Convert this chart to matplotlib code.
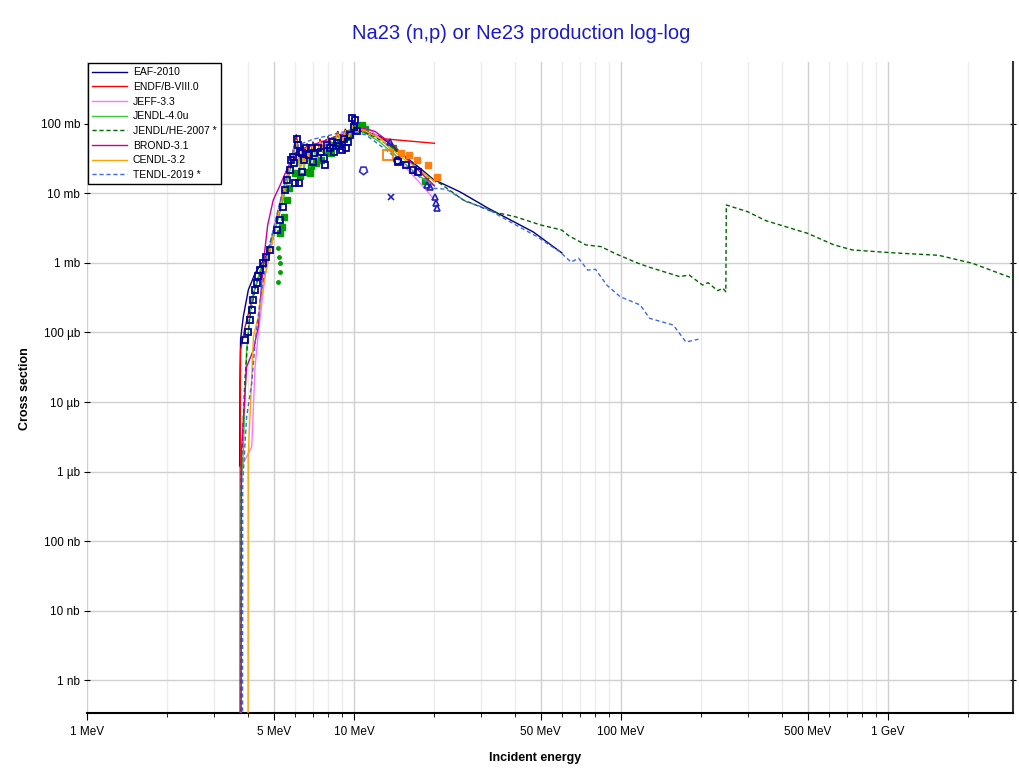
import numpy as np
import matplotlib
matplotlib.use("Agg")
import matplotlib.pyplot as plt

plt.rcParams['font.family'] = ['Liberation Sans', 'DejaVu Sans']

# energies in MeV, cross sections in mb
eaf_e = [3.73, 3.74, 3.76, 3.85, 4.02, 4.26, 4.64, 4.9, 5.06, 5.3, 5.5, 5.7, 5.9, 6.08, 6.17, 6.28,
         6.40, 6.49, 6.67, 6.84, 7.02, 7.28, 7.46, 7.73, 8.0, 8.34, 8.69, 9.0, 9.28, 9.57, 9.84,
         10.1, 10.35, 10.7, 12.5, 14.0, 15.7, 17.7, 19.8, 24.9, 31.9, 46.9, 60.0]
eaf_s = [1.2e-3, 0.02, 0.08, 0.17, 0.41, 0.71, 1.17, 1.8, 3.0, 6.0, 11, 20, 35, 70, 45, 22,
         48, 25, 52, 27, 55, 33, 60, 36, 66, 45, 78, 50, 84, 60, 118,
         72, 88, 82, 66, 48, 33, 23, 16, 10.6, 6.1, 2.8, 1.4]

endf_e = [3.74, 3.75, 3.76, 3.91, 4.2, 4.45, 4.7, 4.9, 5.06, 5.37, 5.59, 5.81, 5.98, 6.08, 6.17, 6.28,
          6.40, 6.49, 6.67, 6.84, 7.02, 7.28, 7.46, 7.73, 8.0, 8.34, 8.69, 9.0, 9.28, 9.57, 9.84,
          10.1, 10.35, 10.7, 12.5, 20.0]
endf_s = [1e-8, 0.02, 0.056, 0.121, 0.366, 0.7, 1.23, 2.0, 3.5, 9.5, 16.7, 30, 50, 63, 42, 26,
          45, 27, 50, 30, 53, 36, 59, 40, 65, 48, 77, 55, 82, 65, 100,
          74, 88, 82, 62, 52.8]

jeff_e = [3.78, 3.785, 3.96, 4.14, 4.26, 4.38, 4.64, 5.0, 5.5, 6.0, 6.5, 7.0, 8.0, 9.0, 10.0, 11.0,
          11.5, 13.0, 15.7, 18.2, 19.8]
jeff_s = [1e-8, 1.17e-3, 1.63e-3, 2.27e-3, 0.032, 0.097, 0.635, 3.2, 13, 38, 44, 49, 58, 70, 84, 85,
          82, 55, 23, 12.5, 8.5]

jendl4_e = [3.76, 3.77, 3.85, 3.96, 4.14, 4.45, 4.85, 5.06, 5.37, 5.59, 5.81, 5.98, 6.08, 6.17, 6.28,
            6.40, 6.49, 6.67, 6.84, 7.02, 7.28, 7.46, 7.73, 8.0, 8.34, 8.69, 9.0, 9.28, 9.57, 9.84,
            10.1, 10.5, 11.0, 12.5, 15.0, 17.5, 20.0]
jendl4_s = [1e-8, 5e-4, 2e-3, 0.056, 0.294, 0.79, 1.54, 3.0, 7, 13, 25, 42, 55, 35, 20,
            38, 22, 42, 24, 45, 30, 52, 35, 58, 44, 70, 52, 75, 62, 90,
            76, 80, 75, 55, 30, 18, 12.8]

jendlhe_e = [3.77, 3.78, 3.9, 4.05, 4.3, 4.7, 5.0, 5.3, 5.6, 5.9, 6.2, 6.6, 7.0, 7.5, 8.0, 8.5, 9.0,
             9.5, 10.0, 10.5, 12.0, 14.0, 16.0, 18.0, 20.0, 21.0, 25.6, 33.0, 40.1, 50.1, 60.0,
             63.9, 73.9, 84.2, 95.8, 116, 128, 166, 180, 202, 212, 230, 241, 247, 248, 298,
             349, 500, 628, 736, 1016, 1549, 2071, 2938]
jendlhe_s = [1e-8, 1e-3, 0.02, 0.15, 0.5, 1.3, 3.0, 7, 15, 30, 42, 46, 50, 55, 60, 66, 72,
             78, 82, 80, 65, 45, 30, 20, 15, 14, 8.1, 5.47, 4.64, 3.52, 2.98,
             2.45, 1.82, 1.72, 1.35, 0.99, 0.867, 0.636, 0.672, 0.482, 0.521, 0.40, 0.432, 0.386, 6.84, 5.47,
             4.06, 2.67, 1.82, 1.54, 1.41, 1.29, 0.99, 0.60]

brond_e = [3.77, 3.79, 3.96, 4.2, 4.38, 4.51, 4.64, 4.75, 4.98, 5.28, 5.6, 6.0, 6.5, 7.0, 7.5, 8.0,
           9.0, 10.0, 11.0, 12.0, 14.0, 16.0, 18.0, 20.0]
brond_s = [1e-8, 2e-3, 0.032, 0.056, 0.121, 0.51, 1.6, 3.5, 8, 13, 22, 38, 45, 50, 55, 60,
           70, 82, 86, 78, 50, 30, 19, 13]

cendl_e = [4.01, 4.015, 4.14, 4.2, 4.38, 4.64, 4.85, 5.06, 5.37, 5.59, 5.81, 5.98, 6.08, 6.17, 6.28,
           6.40, 6.49, 6.67, 6.84, 7.02, 7.28, 7.46, 7.73, 8.0, 8.34, 8.69, 9.0, 9.28, 9.57, 9.84,
           10.1, 10.5, 11.0, 12.5, 14.9, 17.0, 20.0]
cendl_s = [1e-8, 1.63e-3, 0.023, 0.087, 0.169, 0.635, 1.4, 3.3, 8, 15, 28, 46, 58, 38, 23,
           42, 25, 46, 28, 50, 33, 56, 38, 62, 46, 74, 54, 80, 64, 95,
           76, 84, 80, 62, 34, 24, 15]

tendl_e = [3.82, 3.83, 3.96, 4.14, 4.26, 4.45, 4.7, 5.0, 5.3, 5.6, 5.9, 6.2, 6.6, 7.0, 7.5, 8.0, 8.5,
           9.0, 9.5, 10.0, 10.5, 11.1, 13.2, 17.2, 19.8, 22.2, 26.4, 31.3, 38.5, 48.4, 52.6, 59.0,
           65.0, 69.4, 75.0, 80.3, 88.5, 99.3, 118, 128, 157, 175, 195]
tendl_s = [1e-8, 6.8e-4, 6.1e-3, 0.0186, 0.070, 0.294, 1.1, 3.2, 8, 18, 40, 50, 55, 60, 64, 68, 72,
           76, 79, 78, 73.5, 69.4, 42.3, 18.5, 11.9, 11.5, 7.6, 6.1, 3.9, 2.4, 1.94, 1.45,
           1.03, 1.17, 0.79, 0.81, 0.48, 0.327, 0.249, 0.160, 0.128, 0.073, 0.080]

# experimental points
exp_sq_e = [3.91, 4.02, 4.08, 4.14, 4.2, 4.26, 4.32, 4.38, 4.45, 4.57, 4.7, 4.85, 5.13, 5.28, 5.44,
            5.52, 5.6, 5.76, 5.8, 5.93, 5.95, 6.03, 6.1, 6.19, 6.2, 6.25, 6.36, 6.39, 6.5, 6.6,
            6.76, 6.9, 7.0, 7.1, 7.3, 7.5, 7.7, 7.8, 7.9, 8.1, 8.3, 8.45, 8.63, 8.8, 9.0, 9.2,
            9.35, 9.53, 9.7, 9.84, 10.0, 10.1, 10.3, 14.6, 15.7, 16.6, 17.4]
exp_sq_s = [0.078, 0.10, 0.15, 0.21, 0.29, 0.41, 0.51, 0.64, 0.79, 1.0, 1.23, 1.54, 3.0, 4.16, 6.5,
            11.2, 15.6, 21.8, 30, 33.8, 27.1, 14.0, 60, 50, 14.0, 40, 37.9, 20.6, 30, 45,
            35.8, 45, 28.7, 38, 45, 40, 32.1, 25.7, 50, 45, 55, 40, 52.8, 48, 42.3, 60,
            45, 55.6, 70, 121, 90, 114, 80, 28.7, 25.7, 21.8, 20.6]

exp_green_e = [5.28, 5.38, 5.46, 5.6, 5.7, 6.03, 6.3, 6.64, 6.84, 6.9, 7.23, 7.5, 7.9, 8.2, 8.5,
               8.87, 9.3, 9.6, 10.2, 10.4, 10.7, 11.0, 14.0, 18.5]
exp_green_s = [2.67, 3.3, 4.6, 8.0, 12, 19.5, 18, 20.6, 19.5, 25, 27.1, 30, 42.3, 38, 50,
               55.6, 65, 73.5, 91.5, 88, 96.7, 85, 45, 15]

exp_dot_e = [5.2, 5.24, 5.28, 5.28, 5.2]
exp_dot_s = [1.63, 1.23, 1.0, 0.75, 0.54]

exp_org_e = [15.0, 16.0, 17.2, 19.0, 20.4]
exp_org_s = [37.9, 35.8, 30.3, 25.7, 17.4]

exp_tri_e = [13.6, 18.7, 19.2, 20.1, 20.2, 20.4]
exp_tri_s = [55.6, 13.3, 12.5, 9.0, 7.2, 6.1]

libs = [
    ("EAF-2010", eaf_e, eaf_s, "#000080", "-"),
    ("ENDF/B-VIII.0", endf_e, endf_s, "#ff0000", "-"),
    ("JEFF-3.3", jeff_e, jeff_s, "#ff77ff", "-"),
    ("JENDL-4.0u", jendl4_e, jendl4_s, "#33cc33", "-"),
    ("JENDL/HE-2007 *", jendlhe_e, jendlhe_s, "#006400", "--"),
    ("BROND-3.1", brond_e, brond_s, "#cc0099", "-"),
    ("CENDL-3.2", cendl_e, cendl_s, "#ffa500", "-"),
    ("TENDL-2019 *", tendl_e, tendl_s, "#4169e1", "--"),
]

fig = plt.figure(figsize=(10.2, 7.73), dpi=100)
ax = fig.add_axes([0.0853, 0.0776, 0.9078, 0.8422])
ax.set_xscale("log")
ax.set_yscale("log")

# experimental data
ax.plot(exp_green_e, exp_green_s, "s", ms=4, color="#00a000", zorder=2)
ax.plot(exp_dot_e, exp_dot_s, "o", ms=2.5, color="#00a000", zorder=2)
ax.plot(exp_sq_e, exp_sq_s, "s", ms=4.2, mfc="none", mec="#0000a0", mew=1.3, zorder=4)
ax.plot(exp_org_e, exp_org_s, "s", ms=5, color="#ff7f0e", zorder=4)
ax.plot([13.4], [35.8], "s", ms=7, mfc="none", mec="#ff7f0e", mew=1.3, zorder=4)
ax.plot(exp_tri_e, exp_tri_s, "^", ms=5, mfc="none", mec="#2020c0", mew=1.2, zorder=4)
ax.plot([10.8], [21.8], marker=(5, 0, 180), ms=6, mfc="none", mec="#3030d0", mew=1.2, ls="none", zorder=4)
ax.plot([13.8], [9.0], "x", ms=4, color="#2020c0", mew=1.2, zorder=4)
ax.plot([14.5], [30.3], "o", ms=5, mfc="none", mec="#0000a0", mew=1.2, zorder=4)

for name, e, s, c, ls in libs:
    if ls == "--":
        ax.plot(e, s, color=c, lw=1.0, ls=(0, (3, 2)), label=name, zorder=3)
    else:
        ax.plot(e, s, color=c, lw=1.0, label=name, zorder=3)

ax.set_xlim(1, 2938)
ax.set_ylim(3.35e-7, 780)

xt = [1, 5, 10, 50, 100, 500, 1000]
xl = ["1 MeV", "5 MeV", "10 MeV", "50 MeV", "100 MeV", "500 MeV", "1 GeV"]
xminor = [2, 3, 4, 6, 7, 8, 9, 20, 30, 40, 60, 70, 80, 90, 200, 300, 400, 600, 700, 800, 900, 2000]
yt = [1e-6, 1e-5, 1e-4, 1e-3, 1e-2, 1e-1, 1, 10, 100]
yl = ["1 nb", "10 nb", "100 nb", "1 µb", "10 µb", "100 µb", "1 mb", "10 mb", "100 mb"]

ax.set_xticks(xt)
ax.set_xticklabels(xl)
ax.set_xticks(xminor, minor=True)
ax.set_xticklabels([], minor=True)
ax.set_yticks(yt)
ax.set_yticklabels(yl)
ax.set_yticks([], minor=True)

ax.grid(True, which="major", color="#d0d0d0", lw=1.0)
ax.grid(True, which="minor", axis="x", color="#ececec", lw=1.0)
ax.set_axisbelow(True)

ax.tick_params(axis="x", which="major", labelsize=8.5, length=5, direction="out", pad=4)
ax.tick_params(axis="x", which="minor", length=3, direction="out")
ax.tick_params(axis="y", which="major", labelsize=8.5, length=4, direction="inout",
               right=True, pad=3)

for side in ["top", "left"]:
    ax.spines[side].set_visible(False)
ax.spines["bottom"].set_linewidth(1.5)
ax.spines["right"].set_linewidth(1.5)
ax.spines["right"].set_color("#333333")

leg = ax.legend(loc="upper left", fontsize=7.5, frameon=True, fancybox=False,
                edgecolor="black", framealpha=1, borderaxespad=0.1,
                handlelength=3.3, handletextpad=0.6, labelspacing=0.45, borderpad=0.4)
leg.get_frame().set_linewidth(1.0)

fig.text(0.511, 0.957, "Na23 (n,p) or Ne23 production log-log", ha="center", va="center",
         fontsize=14.5, color="#1a1acc")
fig.text(0.525, 0.02, "Incident energy", ha="center", va="center", fontsize=9, fontweight="bold")
fig.text(0.025, 0.497, "Cross section", ha="center", va="center", rotation=90,
         fontsize=9, fontweight="bold")

fig.savefig("out.png", dpi=100)
